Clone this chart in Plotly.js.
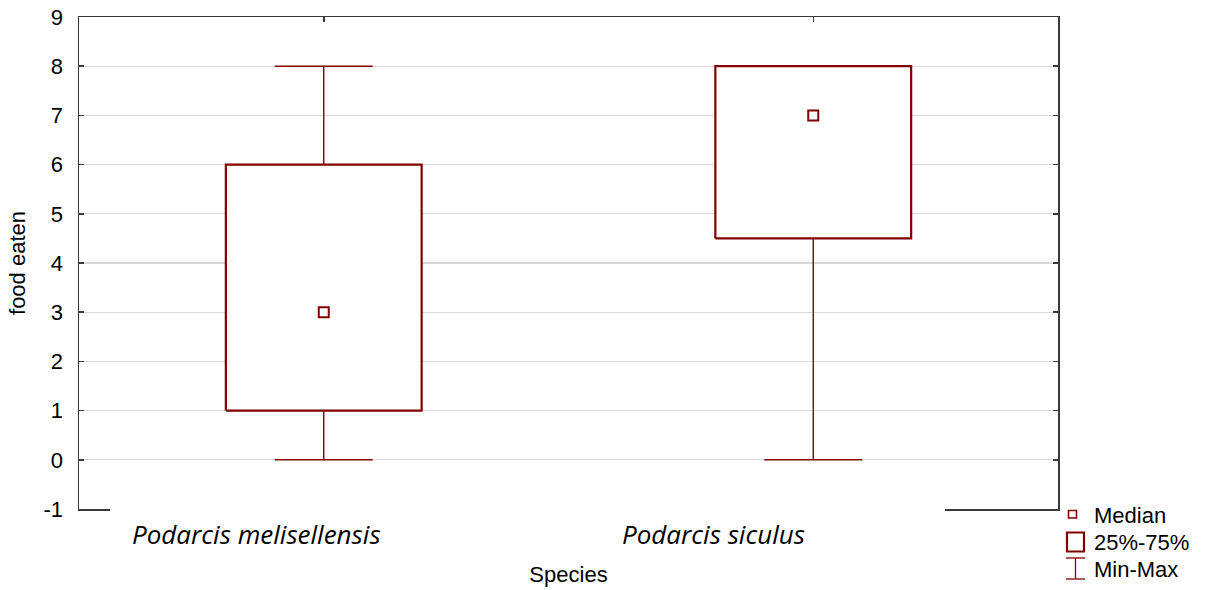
<!DOCTYPE html>
<html><head><meta charset="utf-8">
<script src="https://cdn.plot.ly/plotly-3.0.1.min.js"></script>
<style>html,body{margin:0;padding:0;background:#fff}#chart{width:1210px;height:590px}</style>
</head><body><div id="chart"></div>
<script>
const species = ["Podarcis melisellensis", "Podarcis siculus"];
const minVals = [0, 0];
const q1Vals = [1, 4.5];
const medianVals = [3, 7];
const q3Vals = [6, 8];
const maxVals = [8, 8];
const yTicks = [-1, 0, 1, 2, 3, 4, 5, 6, 7, 8, 9];
const legendLabels = ["Median", "25%-75%", "Min-Max"];
const xTitle = "Species";
const yTitle = "food eaten";

const RED = "#800000";
const AXC = "#3a3a3a";
const W = 1210, H = 590;
const M = {l: 79, r: 152, t: 17, b: 81};
const PW = W - M.l - M.r, PH = H - M.t - M.b;
const px = x => (x - M.l) / PW;
const py = y => (H - M.b - y) / PH;
const boxHalf = 0.2, capHalf = 0.1;
const xs = species.map((s, i) => i);

const traces = [];
// whiskers + caps
const wx = [], wy = [];
xs.forEach((x, i) => {
  wx.push(x, x, null, x, x, null, x - capHalf, x + capHalf, null, x - capHalf, x + capHalf, null);
  wy.push(q3Vals[i], maxVals[i], null, minVals[i], q1Vals[i], null, maxVals[i], maxVals[i], null, minVals[i], minVals[i], null);
});
traces.push({type: "scatter", mode: "lines", x: wx, y: wy, name: "Min-Max",
  line: {color: RED, width: 1.4}, hoverinfo: "skip", showlegend: false});
// boxes
xs.forEach((x, i) => {
  traces.push({type: "scatter", mode: "lines", name: "25%-75%",
    x: [x - boxHalf, x + boxHalf, x + boxHalf, x - boxHalf, x - boxHalf],
    y: [q1Vals[i], q1Vals[i], q3Vals[i], q3Vals[i], q1Vals[i]],
    fill: "toself", fillcolor: "#ffffff", line: {color: RED, width: 2.2},
    hoverinfo: "skip", showlegend: false});
});
// medians
traces.push({type: "scatter", mode: "markers", x: xs, y: medianVals, name: "Median",
  marker: {symbol: "square-open", size: 10, color: RED, line: {width: 2, color: RED}},
  showlegend: false});

const annotations = [];
xs.forEach((x, i) => {
  annotations.push({xref: "x", yref: "paper", x: x - 0.395, y: py(534), xanchor: "left", yanchor: "middle",
    text: "<i>" + species[i] + "</i>", showarrow: false,
    font: {family: "Open Sans", size: 26, style: "italic", color: "#000"}});
});
const legY = [515, 542.5, 569];
legendLabels.forEach((t, i) => {
  annotations.push({xref: "paper", yref: "paper", x: px(1092), y: py(legY[i]), xanchor: "left", yanchor: "middle",
    text: t, showarrow: false, font: {family: "Liberation Sans, Arial", size: 22, color: "#000"}});
});

const shapes = [
  // cover the middle of bottom axis line (labels' white background in the reference)
  {type: "rect", xref: "paper", yref: "paper", x0: px(110), x1: px(945), y0: py(513), y1: py(502),
    fillcolor: "#ffffff", line: {width: 0}, layer: "above"},
  // legend glyphs
  {type: "rect", xref: "paper", yref: "paper", x0: px(1068.5), x1: px(1076.5), y0: py(518), y1: py(510.5),
    fillcolor: "rgba(0,0,0,0)", line: {color: RED, width: 1.6}, layer: "above"},
  {type: "rect", xref: "paper", yref: "paper", x0: px(1067), x1: px(1084), y0: py(551.5), y1: py(532.5),
    fillcolor: "rgba(0,0,0,0)", line: {color: RED, width: 2.2}, layer: "above"},
  {type: "line", xref: "paper", yref: "paper", x0: px(1075.5), x1: px(1075.5), y0: py(579), y1: py(558),
    line: {color: RED, width: 1.3}, layer: "above"},
  {type: "line", xref: "paper", yref: "paper", x0: px(1066), x1: px(1085), y0: py(558), y1: py(558),
    line: {color: RED, width: 1.3}, layer: "above"},
  {type: "line", xref: "paper", yref: "paper", x0: px(1066), x1: px(1085), y0: py(579), y1: py(579),
    line: {color: RED, width: 1.3}, layer: "above"}
];

const layout = {
  width: W, height: H,
  margin: M,
  paper_bgcolor: "#ffffff", plot_bgcolor: "#ffffff",
  showlegend: false,
  font: {family: "Liberation Sans, Arial", size: 22, color: "#000"},
  xaxis: {
    range: [-0.5, 1.5], tickvals: xs, ticktext: species, showticklabels: false,
    showgrid: false, zeroline: false,
    showline: true, mirror: "ticks", linecolor: AXC, linewidth: 1.5,
    ticks: "inside", ticklen: 5, tickcolor: AXC, tickwidth: 1.5,
    title: {text: xTitle, standoff: 57, font: {size: 22, color: "#000"}},
    fixedrange: true
  },
  yaxis: {
    range: [-1, 9], tickvals: yTicks, ticktext: yTicks.map(String),
    showgrid: true, gridcolor: "#d9d9d9", gridwidth: 1.2, zeroline: false,
    showline: true, mirror: "ticks", linecolor: AXC, linewidth: 1.5,
    ticks: "inside", ticklen: 5, tickcolor: AXC, tickwidth: 1.5,
    ticklabelstandoff: 10,
    tickfont: {size: 22, color: "#000"},
    title: {text: yTitle, standoff: 12, font: {size: 22, color: "#000"}},
    fixedrange: true
  },
  annotations: annotations,
  shapes: shapes
};

Plotly.newPlot("chart", traces, layout, {staticPlot: true, displayModeBar: false});
</script>
</body></html>
